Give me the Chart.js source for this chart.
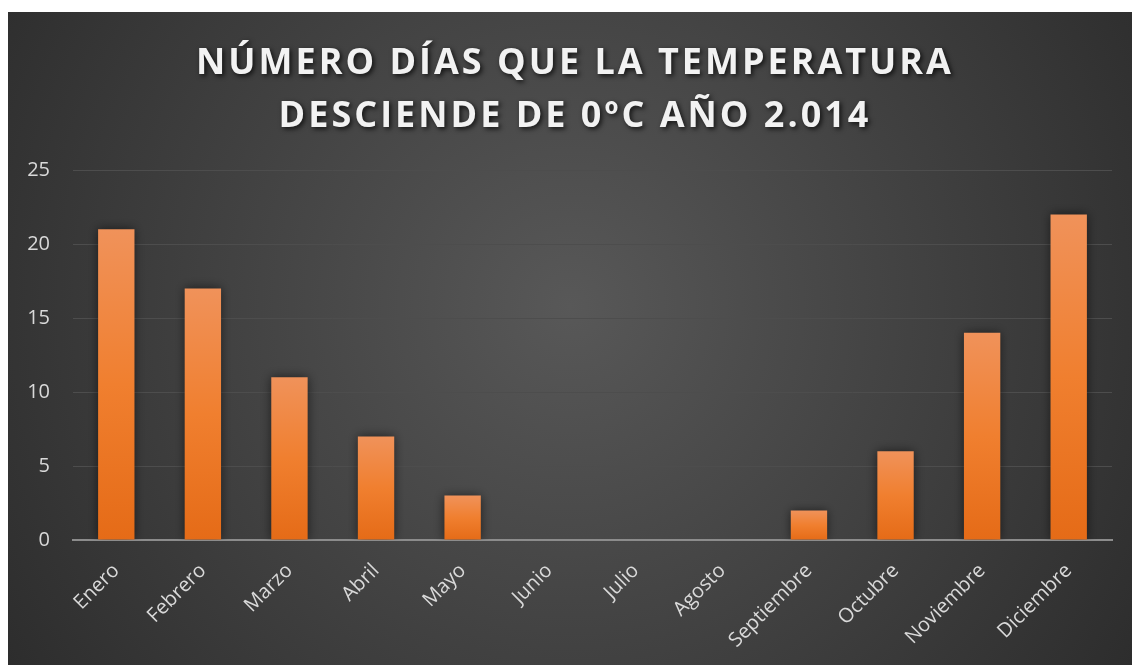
<!DOCTYPE html>
<html>
<head>
<meta charset="utf-8">
<script src="https://cdn.jsdelivr.net/npm/chart.js@4/dist/chart.umd.min.js"></script>
<style>
    html, body { margin: 0; padding: 0; background: #fff; }
    .holder { position: absolute; left: 8px; top: 12px; width: 1124px; height: 653px; }
</style>
</head>
<body>
<div class="holder"><canvas id="heladas"></canvas></div>
<script>
// meses y días con temperatura bajo 0ºC
const meses = ["Enero", "Febrero", "Marzo", "Abril", "Mayo", "Junio", "Julio", "Agosto", "Septiembre", "Octubre", "Noviembre", "Diciembre"];
const dias = [21, 17, 11, 7, 3, 0, 0, 0, 2, 6, 14, 22];
const ticksY = [0, 5, 10, 15, 20, 25];
const titulo = ["NÚMERO DÍAS QUE LA TEMPERATURA", "DESCIENDE DE 0ºC AÑO 2.014"];

// fondo oscuro con degradado radial
const fondo = {
    id: "fondo",
    beforeDraw: (chart) => {
        const ctx = chart.ctx;
        const w = chart.width, h = chart.height;
        const g = ctx.createRadialGradient(w * 0.5, h * 0.45, 0, w * 0.5, h * 0.45, w * 0.62);
        g.addColorStop(0, "#585858");
        g.addColorStop(1, "#2b2b2b");
        ctx.save();
        ctx.fillStyle = g;
        ctx.fillRect(0, 0, w, h);
        ctx.restore();
    }
}

// titulo con espaciado entre letras y sombra
const tituloPlugin = {
    id: "tituloPlugin",
    afterDraw: (chart) => {
        const ctx = chart.ctx;
        ctx.save();
        ctx.font = "bold 36px 'Open Sans'";
        ctx.letterSpacing = "3px";
        ctx.textAlign = "center";
        ctx.textBaseline = "alphabetic";
        ctx.fillStyle = "#f2f2f2";
        ctx.shadowColor = "rgba(0,0,0,0.75)";
        ctx.shadowBlur = 5;
        ctx.shadowOffsetX = 2;
        ctx.shadowOffsetY = 2;
        ctx.fillText(titulo[0], 567, 62);
        ctx.fillText(titulo[1], 567, 115);
        ctx.restore();
    }
}

// sombra de las barras
const sombra = {
    id: "sombra",
    beforeDatasetsDraw: (chart) => {
        const ctx = chart.ctx;
        ctx.save();
        ctx.shadowColor = "rgba(0,0,0,0.55)";
        ctx.shadowBlur = 10;
    },
    afterDatasetsDraw: (chart) => {
        chart.ctx.restore();
    }
}

const degradado = (context) => {
    const chart = context.chart;
    if (!chart.chartArea || context.parsed == undefined) return "#ed7d31";
    const y = chart.scales.y;
    const top = y.getPixelForValue(context.parsed.y);
    const base = y.getPixelForValue(0);
    if (base - top < 1) return "#ed7d31";
    const g = chart.ctx.createLinearGradient(0, top, 0, base);
    g.addColorStop(0, "#f0925a");
    g.addColorStop(0.5, "#f07f2f");
    g.addColorStop(1, "#e56b17");
    return g;
}

const ctx = document.getElementById("heladas").getContext("2d");
new Chart(ctx, {
    type: "bar",
    data: {
        labels: meses,
        datasets: [{
            label: "Días",
            data: dias,
            backgroundColor: degradado,
            borderWidth: 0,
            barPercentage: 0.42,
            categoryPercentage: 1
        }]
    },
    plugins: [fondo, sombra, tituloPlugin],
    options: {
        responsive: true,
        maintainAspectRatio: false,
        animation: false,
        layout: {
            padding: { top: 158, left: 0, right: 20, bottom: 0 }
        },
        plugins: {
            legend: { display: false },
            title: { display: false },
            tooltip: { enabled: false }
        },
        scales: {
            x: {
                // las etiquetas giradas no deben empujar el área del gráfico
                afterFit: (s) => { s.paddingLeft = 0; s.paddingRight = 0; s.height = 125; },
                grid: { display: false, drawTicks: false },
                border: { color: "#8c8c8c", width: 2 },
                ticks: {
                    color: "#d9d9d9",
                    font: { family: "'Open Sans'", size: 20 },
                    maxRotation: 45,
                    minRotation: 45,
                    padding: 19
                }
            },
            y: {
                min: 0,
                max: 25,
                afterBuildTicks: (axis) => {
                    axis.ticks = ticksY.map(v => ({ value: v }));
                },
                afterFit: (s) => { s.width = 65; },
                grid: { color: "#4d4d4d", lineWidth: 1, drawTicks: false },
                border: { display: false },
                ticks: {
                    color: "#d9d9d9",
                    font: { family: "'Open Sans'", size: 20 },
                    padding: 23
                }
            }
        }
    }
});
</script>
</body>
</html>
